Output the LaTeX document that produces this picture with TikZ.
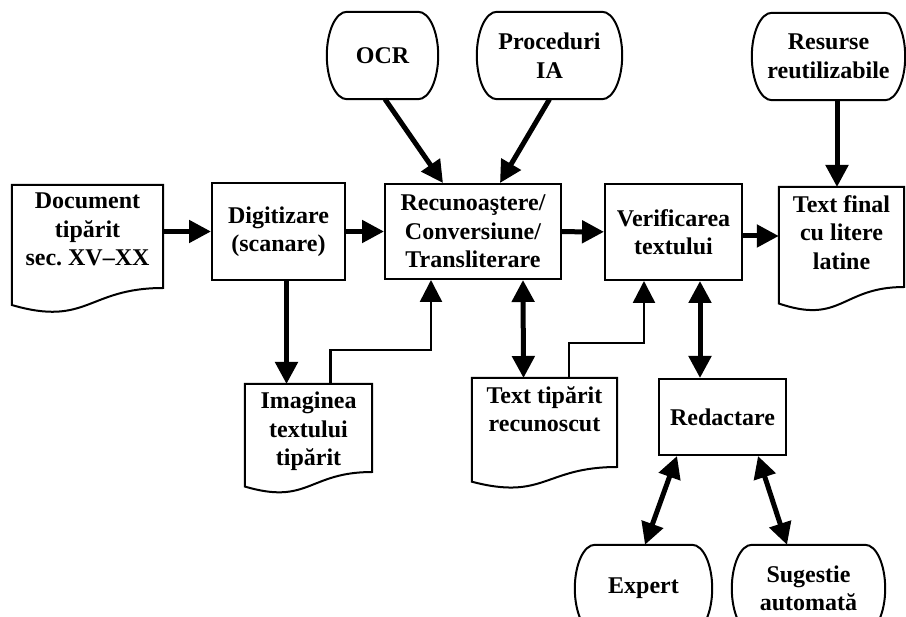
\documentclass[tikz,border=0pt]{standalone}
\usepackage{fontspec}
\setmainfont{Liberation Serif}
\usepackage{tikz}
\usetikzlibrary{arrows.meta,positioning,calc}

\newcommand{\termoutline}[1]{%
  \draw[line width=2pt] let \p1=(#1.north west), \p2=(#1.south east), \n1={(\y1-\y2)/2} in
    (\x1+20,\y1) -- (\x2-20,\y1) arc[start angle=90,end angle=-90,x radius=20pt,y radius=\n1]
    -- (\x1+20,\y2) arc[start angle=270,end angle=90,x radius=20pt,y radius=\n1] -- cycle;}
\newcommand{\docoutline}[2]{%
  \draw[line width=2pt] let \p1=(#1.north west), \p2=(#1.north east), \n1={\x2-\x1} in
    (\p1) -- (\p2) -- (\x2,\y2-#2)
    .. controls (\x2-0.5*\n1,\y2-#2) and (\x2-0.5*\n1,\y2-1.38*#2) .. (\x1,\y2-1.165*#2) -- cycle;}

\begin{document}
\begin{tikzpicture}[x=1pt,y=1pt,
  font=\bfseries\fontsize{24}{28.5}\selectfont,
  box/.style={draw,line width=2pt,rectangle,align=center,inner sep=3pt},
  term/.style={rectangle,align=center,inner sep=3pt},
  docnode/.style={rectangle,align=center,anchor=north,inner xsep=3pt,inner ysep=8pt},
  arr/.style={line width=5pt,-{Triangle[length=22pt,width=22pt]}},
  biarr/.style={line width=5pt,{Triangle[length=22pt,width=22pt]}-{Triangle[length=22pt,width=22pt]}},
  thinarr/.style={line width=2.5pt,-{Triangle[length=22pt,width=22pt]}}]
\useasboundingbox (0,0) rectangle (906,-617);

\node[docnode,minimum width=151pt] (doc) at (87.5,-185) {Document\\tipărit\\sec.\ XV–XX};
\docoutline{doc}{103}
\node[box,minimum width=133pt,minimum height=97pt] (dig) at (278.5,-231.5) {Digitizare\\(scanare)};
\node[box,minimum width=176pt,minimum height=95pt] (rec) at (473,-231.5) {Recunoaştere/\\Conversiune/\\Transliterare};
\node[box,minimum width=137pt,minimum height=96pt] (ver) at (673.5,-232) {Verificarea\\textului};
\node[docnode,minimum width=125pt] (fin) at (841.5,-187) {Text final\\cu litere\\latine};
\docoutline{fin}{100}

\node[term,minimum width=111pt,minimum height=87pt] (ocr) at (382.5,-55.5) {OCR};
\termoutline{ocr}
\node[term,minimum width=145pt,minimum height=87pt] (proc) at (549.5,-55.5) {Proceduri\\IA};
\termoutline{proc}
\node[term,minimum width=153pt,minimum height=87pt] (res) at (828.5,-56.5) {Resurse\\reutilizabile};
\termoutline{res}

\node[docnode,minimum width=127pt] (img) at (308.5,-384) {Imaginea\\textului\\tipărit};
\docoutline{img}{88}
\node[docnode,minimum width=145pt] (ttr) at (544.5,-378) {Text tipărit\\recunoscut};
\docoutline{ttr}{89}
\node[box,minimum width=127pt,minimum height=76pt] (red) at (722.5,-417) {Redactare};

\node[term,minimum width=137pt,minimum height=87pt] (exp) at (643.5,-588.5) {Expert};
\termoutline{exp}
\node[term,minimum width=153pt,minimum height=87pt] (sug) at (808.5,-588.5) {Sugestie\\automată};
\termoutline{sug}

\draw[arr] (doc.east |- dig.west) -- (dig.west);
\draw[arr] (dig) -- (rec);
\draw[arr] (rec) -- (ver);
\draw[arr] ([yshift=-4pt]ver.east) -- ([yshift=-4pt]ver.east -| fin.west);
\draw[arr] ([xshift=2.5pt]ocr.south) -- ([xshift=-30pt]rec.north);
\draw[arr] (proc.south) -- ([xshift=27pt]rec.north);
\draw[arr] ([xshift=8.5pt]res.south) -- ([xshift=-4.5pt]fin.north);
\draw[arr] ([xshift=8pt]dig.south) -- ([xshift=8pt]dig.south |- img.north);
\draw[thinarr] ([xshift=22pt]img.north) -- ++(0,34) -| ([xshift=-42pt]rec.south);
\draw[biarr] ([xshift=50pt]rec.south) -- ([xshift=-21pt]ttr.north);
\draw[thinarr] ([xshift=24.5pt]ttr.north) -- ++(0,35) -| ([xshift=-29.5pt]ver.south);
\draw[biarr] ([xshift=26.5pt]ver.south) -- ([xshift=-22.5pt]red.north);
\draw[biarr] ([xshift=-45.5pt]red.south) -- ([xshift=1.5pt]exp.north);
\draw[biarr] ([xshift=35.5pt]red.south) -- ([xshift=-21.5pt]sug.north);
\end{tikzpicture}
\end{document}
